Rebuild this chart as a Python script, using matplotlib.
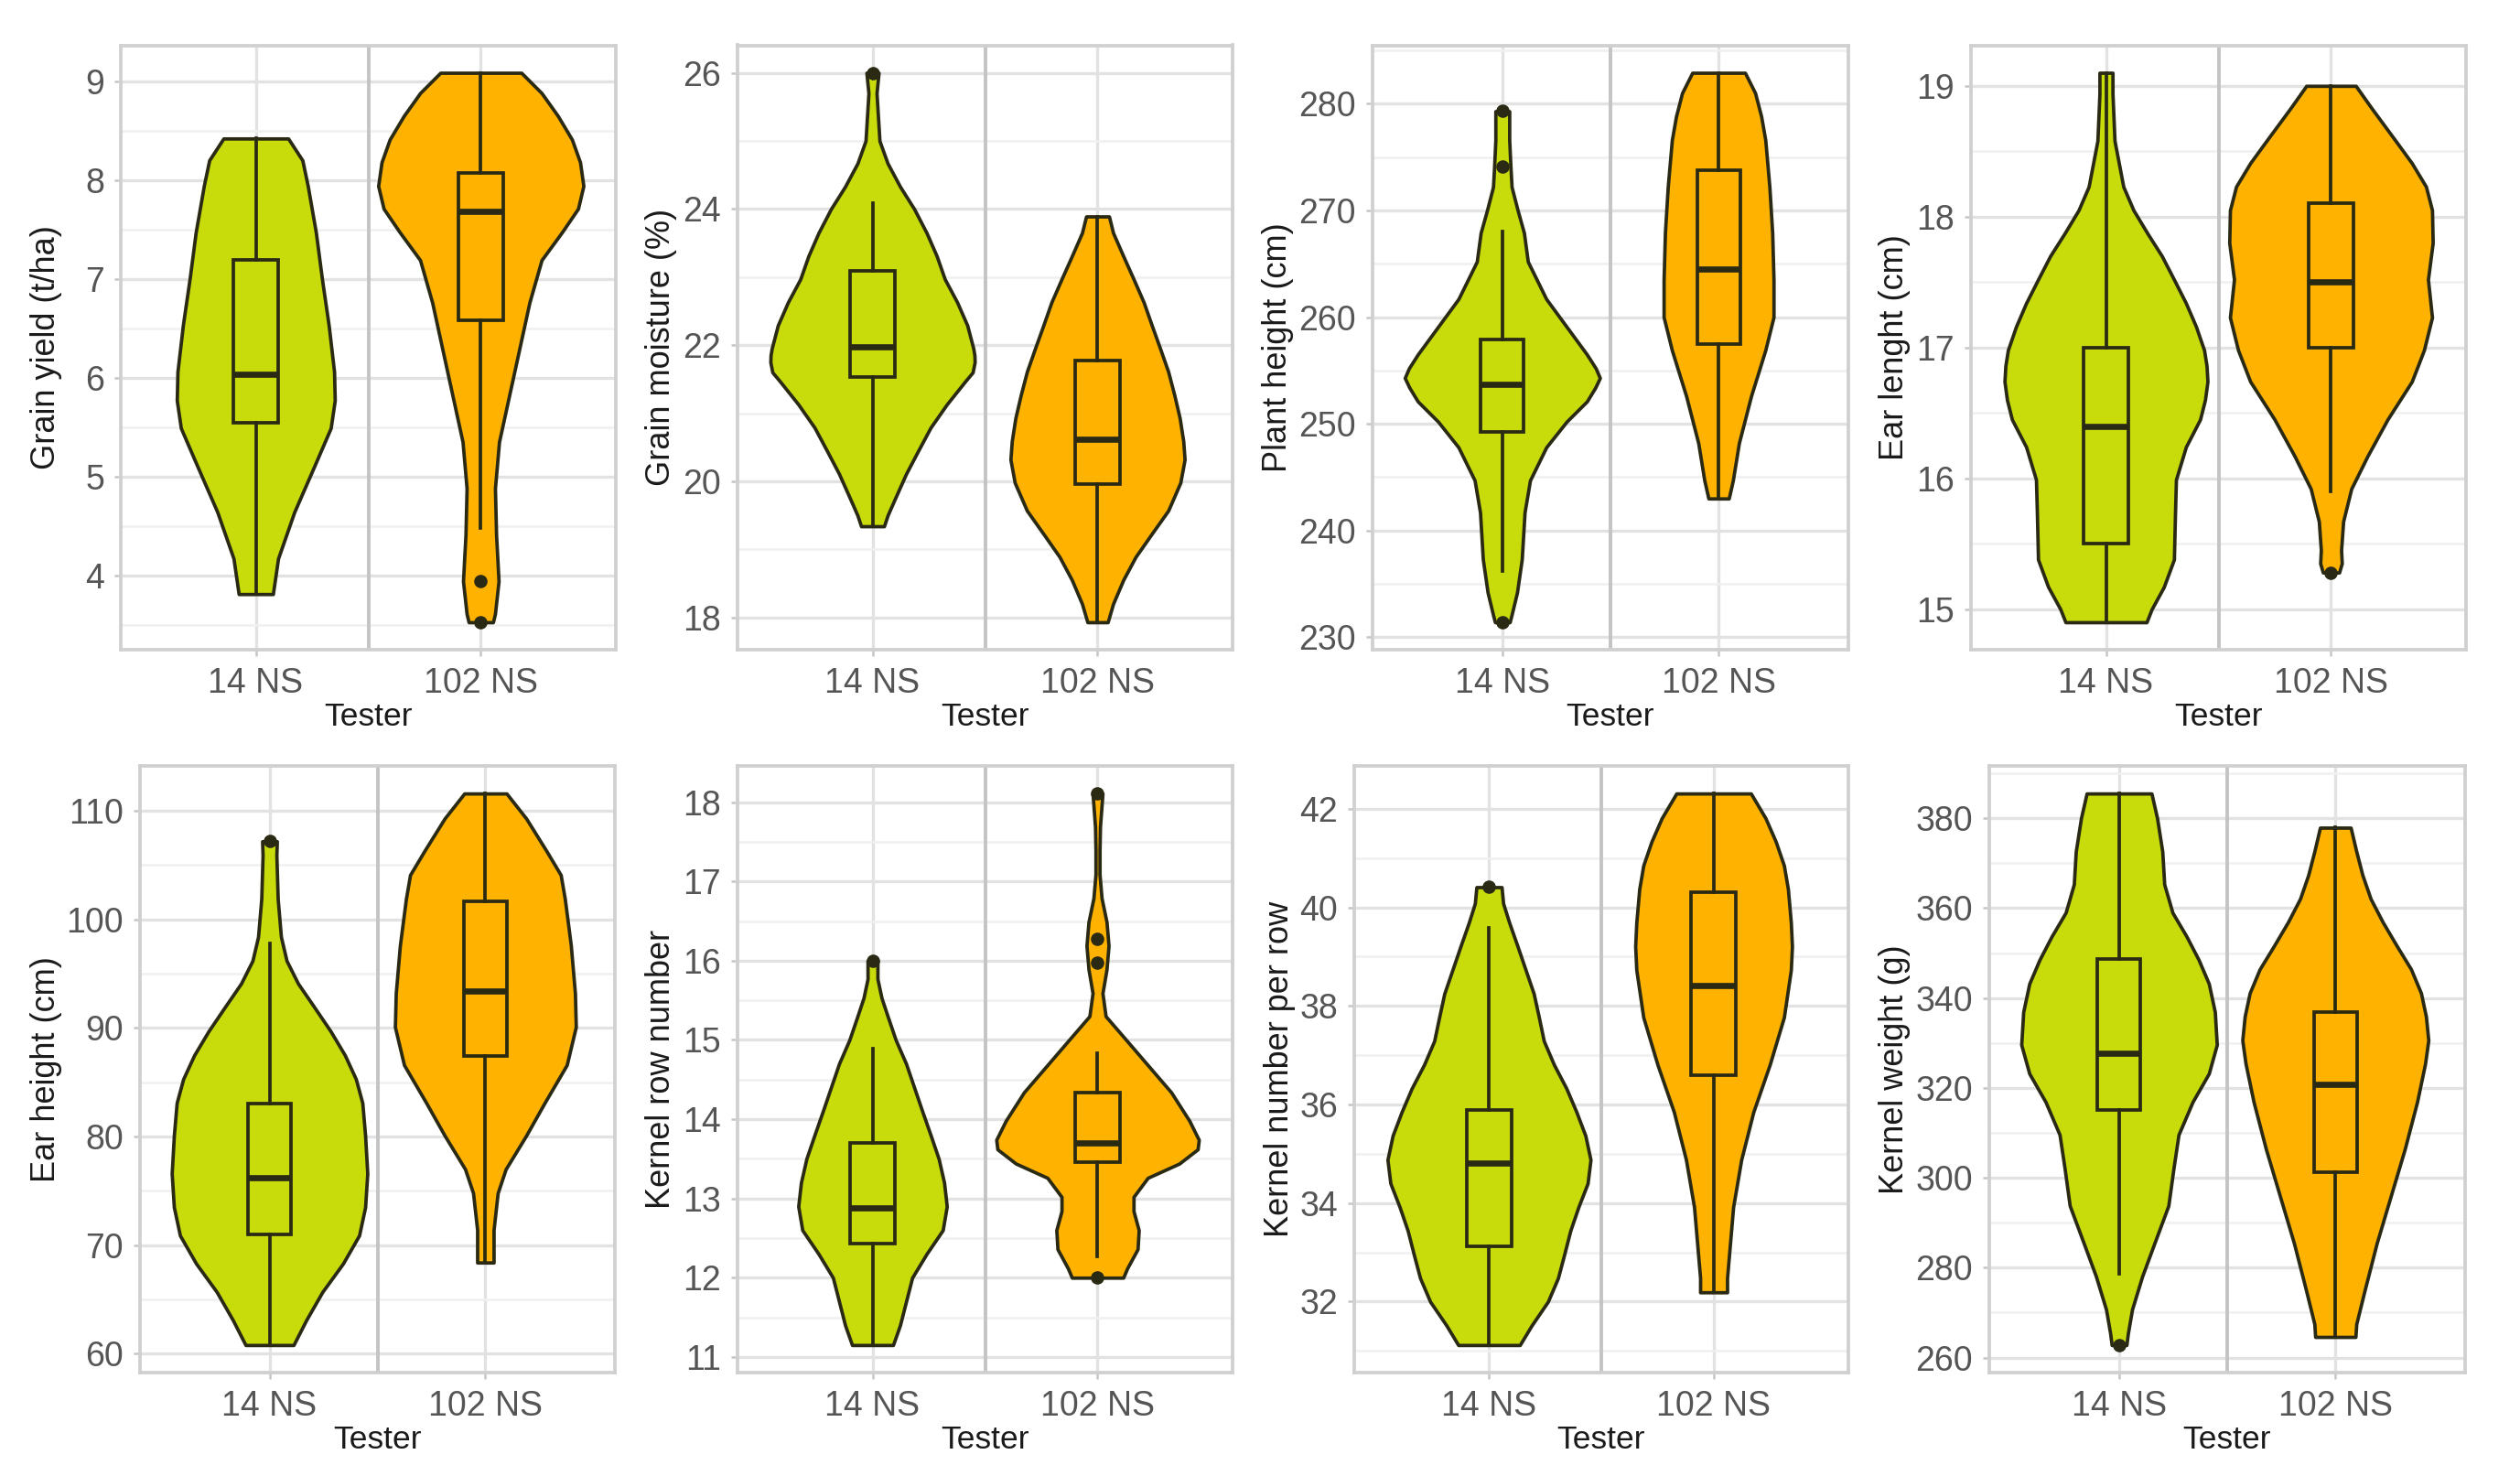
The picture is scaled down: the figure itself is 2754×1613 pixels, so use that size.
import numpy as np
import matplotlib
matplotlib.use("Agg")
import matplotlib.pyplot as plt
from matplotlib.ticker import MultipleLocator, NullLocator
from matplotlib.transforms import blended_transform_factory

plt.rcParams['font.family'] = ['Liberation Sans', 'DejaVu Sans']

testers = ['14 NS', '102 NS']
fills = ['#c8dc0c', '#ffb300']
edge = '#2a2a14'

# violin outlines: y values and half widths (x units)
# box stats are [whisker low, q1, median, q3, whisker high]

# Grain yield
gy_14_y = [8.42, 8.2, 7.94, 7.47, 7.00, 6.53, 6.06, 5.77, 5.49, 5.11, 4.64, 4.17, 3.81]
gy_14_w = [0.144, 0.207, 0.231, 0.267, 0.294, 0.324, 0.348, 0.351, 0.333, 0.261, 0.171, 0.099, 0.076]
gy_102_y = [9.085, 8.88, 8.65, 8.41, 8.18, 7.94, 7.71, 7.47, 7.19, 6.76, 6.29, 5.82, 5.35, 4.88, 4.41, 3.94, 3.61, 3.525]
gy_102_w = [0.18, 0.27, 0.342, 0.405, 0.441, 0.456, 0.432, 0.36, 0.27, 0.216, 0.171, 0.126, 0.081, 0.063, 0.068, 0.079, 0.063, 0.054]
gy_box = [[3.81, 5.54, 6.03, 7.19, 8.42], [4.48, 6.58, 7.68, 8.07, 9.085]]
gy_out = [[], [3.94, 3.525]]

# Grain moisture
gm_14_y = [26.0, 25.7, 25.0, 24.67, 24.33, 24.0, 23.65, 23.31, 22.97, 22.63, 22.29, 21.95, 21.85, 21.75, 21.6, 21.47, 21.13, 20.79, 20.45, 20.11, 19.77, 19.5, 19.34]
gm_14_w = [0.027, 0.018, 0.031, 0.067, 0.122, 0.185, 0.240, 0.285, 0.321, 0.376, 0.421, 0.448, 0.453, 0.454, 0.445, 0.412, 0.330, 0.258, 0.203, 0.149, 0.103, 0.067, 0.051]
gm_102_y = [23.89, 23.65, 23.31, 22.97, 22.63, 22.29, 21.95, 21.61, 21.27, 20.93, 20.59, 20.32, 19.98, 19.57, 19.23, 18.89, 18.55, 18.2, 17.93]
gm_102_w = [0.051, 0.069, 0.114, 0.160, 0.205, 0.241, 0.278, 0.314, 0.341, 0.365, 0.381, 0.387, 0.368, 0.314, 0.241, 0.169, 0.114, 0.069, 0.045]
gm_box = [[19.34, 21.53, 21.98, 23.09, 24.09], [17.93, 19.96, 20.62, 21.78, 23.89]]
gm_out = [[26.0], []]

# Plant height
ph_14_y = [279.3, 276.6, 274.0, 272.2, 270.0, 267.9, 265.2, 261.7, 259.1, 256.5, 255.2, 254.3, 253.4, 252.1, 250.2, 247.8, 244.7, 241.7, 237.3, 234.2, 232.1, 231.4]
ph_14_w = [0.032, 0.032, 0.038, 0.043, 0.071, 0.100, 0.118, 0.203, 0.297, 0.391, 0.432, 0.451, 0.430, 0.391, 0.297, 0.203, 0.128, 0.103, 0.090, 0.068, 0.043, 0.034]
ph_102_y = [282.9, 281.0, 278.8, 276.6, 272.2, 267.9, 263.5, 260.0, 256.9, 252.6, 248.2, 244.7, 243.0]
ph_102_w = [0.122, 0.169, 0.197, 0.216, 0.235, 0.248, 0.254, 0.254, 0.216, 0.150, 0.094, 0.066, 0.047]
ph_box = [[236.2, 249.2, 253.7, 257.9, 268.0], [243.0, 257.5, 264.5, 273.8, 282.9]]
ph_out = [[279.3, 274.1, 231.4], []]

# Ear length
el_14_y = [19.1, 18.94, 18.58, 18.23, 18.05, 17.87, 17.70, 17.52, 17.34, 17.16, 16.98, 16.86, 16.74, 16.6, 16.45, 16.24, 15.99, 15.74, 15.38, 15.17, 15.0, 14.9]
el_14_w = [0.029, 0.029, 0.038, 0.077, 0.122, 0.185, 0.248, 0.302, 0.355, 0.400, 0.436, 0.447, 0.451, 0.440, 0.418, 0.355, 0.311, 0.307, 0.302, 0.257, 0.203, 0.180]
el_102_y = [19.0, 18.83, 18.58, 18.41, 18.23, 18.05, 17.80, 17.52, 17.23, 16.98, 16.74, 16.45, 16.17, 15.92, 15.67, 15.45, 15.35, 15.28]
el_102_w = [0.110, 0.180, 0.287, 0.359, 0.422, 0.449, 0.452, 0.431, 0.449, 0.413, 0.359, 0.251, 0.162, 0.090, 0.054, 0.045, 0.048, 0.036]
el_box = [[14.9, 15.5, 16.4, 17.0, 19.1], [15.9, 17.0, 17.5, 18.1, 19.0]]
el_out = [[], [15.28]]

# Ear height
eh_14_y = [107.2, 105.9, 101.9, 98.4, 96.2, 94.1, 91.9, 89.7, 87.5, 85.3, 83.1, 80.1, 76.6, 73.5, 70.9, 68.3, 65.7, 63.1, 60.8]
eh_14_w = [0.034, 0.032, 0.038, 0.053, 0.079, 0.132, 0.208, 0.283, 0.349, 0.400, 0.430, 0.443, 0.453, 0.443, 0.415, 0.340, 0.245, 0.170, 0.111]
eh_102_y = [111.6, 109.3, 106.3, 104.1, 101.9, 97.6, 93.2, 90.1, 86.6, 83.1, 80.1, 77.0, 74.8, 71.4, 68.4]
eh_102_w = [0.098, 0.189, 0.283, 0.349, 0.368, 0.396, 0.415, 0.419, 0.377, 0.274, 0.189, 0.094, 0.057, 0.038, 0.038]
eh_box = [[60.8, 71.0, 76.2, 83.0, 97.8], [68.4, 87.4, 93.4, 101.7, 111.6]]
eh_out = [[107.2], []]

# Kernel row number
krn_14_y = [16.0, 15.77, 15.53, 15.30, 15.0, 14.70, 14.40, 14.10, 13.80, 13.50, 13.20, 12.90, 12.60, 12.30, 12.0, 11.70, 11.40, 11.15]
krn_14_w = [0.022, 0.022, 0.040, 0.067, 0.103, 0.149, 0.185, 0.221, 0.258, 0.294, 0.318, 0.330, 0.312, 0.240, 0.176, 0.149, 0.122, 0.091]
krn_102_y = [18.11, 17.69, 17.39, 17.09, 16.79, 16.49, 16.19, 15.89, 15.59, 15.30, 15.06, 14.70, 14.34, 13.98, 13.74, 13.62, 13.44, 13.26, 13.02, 12.84, 12.60, 12.36, 12.12, 12.0]
krn_102_w = [0.022, 0.011, 0.009, 0.009, 0.018, 0.040, 0.049, 0.040, 0.022, 0.036, 0.109, 0.218, 0.327, 0.408, 0.450, 0.445, 0.363, 0.223, 0.160, 0.160, 0.183, 0.178, 0.132, 0.114]
krn_box = [[11.15, 12.43, 12.88, 13.70, 14.89], [12.27, 13.46, 13.70, 14.34, 14.83]]
krn_out = [[16.0], [18.11, 16.28, 15.98, 12.0]]

# Kernel number per row
knr_14_y = [40.41, 40.08, 39.69, 39.21, 38.73, 38.25, 37.77, 37.29, 36.81, 36.33, 35.85, 35.37, 34.88, 34.40, 33.92, 33.44, 32.96, 32.48, 32.0, 31.52, 31.12]
knr_14_w = [0.056, 0.063, 0.090, 0.127, 0.163, 0.199, 0.222, 0.244, 0.289, 0.344, 0.389, 0.429, 0.452, 0.439, 0.398, 0.362, 0.335, 0.307, 0.262, 0.190, 0.137]
knr_102_y = [42.31, 41.81, 41.33, 40.85, 40.37, 39.69, 39.21, 38.73, 37.77, 36.81, 35.85, 34.88, 33.92, 32.96, 32.48, 32.19]
knr_102_w = [0.166, 0.231, 0.277, 0.313, 0.331, 0.344, 0.349, 0.344, 0.313, 0.250, 0.177, 0.123, 0.087, 0.069, 0.060, 0.060]
knr_box = [[31.12, 33.13, 34.81, 35.89, 39.58], [32.19, 36.59, 38.41, 40.30, 42.31]]
knr_out = [[40.41], []]

# Kernel weight
kw_14_y = [385.5, 380.0, 372.6, 365.3, 359.0, 353.7, 348.5, 343.2, 336.9, 329.6, 323.2, 316.9, 309.6, 302.2, 293.8, 285.4, 278.1, 270.7, 265.4, 262.8]
kw_14_w = [0.150, 0.176, 0.200, 0.209, 0.247, 0.312, 0.368, 0.415, 0.443, 0.452, 0.415, 0.340, 0.275, 0.252, 0.228, 0.163, 0.107, 0.060, 0.041, 0.034]
kw_102_y = [377.9, 372.6, 367.4, 362.1, 356.9, 351.6, 346.4, 341.1, 335.9, 330.6, 325.4, 316.9, 306.4, 295.9, 285.4, 274.9, 267.5, 264.6]
kw_102_w = [0.071, 0.097, 0.125, 0.163, 0.219, 0.284, 0.350, 0.396, 0.419, 0.430, 0.415, 0.378, 0.321, 0.256, 0.191, 0.135, 0.097, 0.093]
kw_box = [[278.6, 315.0, 327.7, 348.7, 385.5], [264.6, 301.2, 320.8, 336.9, 377.9]]
kw_out = [[262.8], []]

ylabels = ['Grain yield (t/ha)', 'Grain moisture (%)', 'Plant height (cm)', 'Ear lenght (cm)',
           'Ear height (cm)', 'Kernel row number', 'Kernel number per row', 'Kernel weight (g)']
tick_steps = [1, 2, 10, 1, 10, 1, 2, 20]

panels = [
    ([(gy_14_y, gy_14_w), (gy_102_y, gy_102_w)], gy_box, gy_out),
    ([(gm_14_y, gm_14_w), (gm_102_y, gm_102_w)], gm_box, gm_out),
    ([(ph_14_y, ph_14_w), (ph_102_y, ph_102_w)], ph_box, ph_out),
    ([(el_14_y, el_14_w), (el_102_y, el_102_w)], el_box, el_out),
    ([(eh_14_y, eh_14_w), (eh_102_y, eh_102_w)], eh_box, eh_out),
    ([(krn_14_y, krn_14_w), (krn_102_y, krn_102_w)], krn_box, krn_out),
    ([(knr_14_y, knr_14_w), (knr_102_y, knr_102_w)], knr_box, knr_out),
    ([(kw_14_y, kw_14_w), (kw_102_y, kw_102_w)], kw_box, kw_out),
]

# layout in pixels
W, H = 2754, 1613
rows = [(49.5, 710), (837, 1500)]
cols = [[(132, 673), (806, 1347), (1500, 2020), (2154, 2695)],
        [(153, 672), (806, 1347), (1480, 2020), (2174, 2694)]]
ylab_x = [[50, 723, 1397, 2071], [50, 722, 1398, 2071]]
tester_base = [793, 1583]

fig = plt.figure(figsize=(W / 100, H / 100), dpi=100)

for i, (violins, boxes, fliers) in enumerate(panels):
    r, c = divmod(i, 4)
    top, bot = rows[r]
    left, right = cols[r][c]
    ax = fig.add_axes([left / W, 1 - bot / H, (right - left) / W, (bot - top) / H])

    ax.axvline(1.5, color='#c4c4c4', lw=2.8, zorder=1)

    stats = []
    for (yy, ww), b in zip(violins, boxes):
        stats.append(dict(coords=np.array(yy), vals=np.array(ww), mean=b[2],
                          median=b[2], min=min(yy), max=max(yy)))
    parts = ax.violin(stats, positions=[1, 2], widths=[2 * max(w) for _, w in violins],
                      showextrema=False)
    for body, col in zip(parts['bodies'], fills):
        body.set_facecolor(col)
        body.set_edgecolor(edge)
        body.set_linewidth(2.7)
        body.set_joinstyle('round')
        body.set_alpha(1)
        body.set_zorder(2)

    bstats = [dict(whislo=b[0], q1=b[1], med=b[2], q3=b[3], whishi=b[4], fliers=f)
              for b, f in zip(boxes, fliers)]
    bp = ax.bxp(bstats, positions=[1, 2], widths=0.2, patch_artist=True, showcaps=False,
                manage_ticks=False, zorder=3,
                boxprops=dict(edgecolor=edge, linewidth=2.7),
                whiskerprops=dict(color=edge, linewidth=2.7),
                medianprops=dict(color=edge, linewidth=4.8, solid_capstyle='butt'),
                flierprops=dict(marker='o', markerfacecolor=edge, markeredgecolor=edge,
                                markersize=9.5, linestyle='none'))
    for patch, col in zip(bp['boxes'], fills):
        patch.set_facecolor(col)

    allv = [v for yy, _ in violins for v in yy] + [v for f in fliers for v in f]
    lo, hi = min(allv), max(allv)
    pad = 0.05 * (hi - lo)
    ax.set_ylim(lo - pad, hi + pad)
    ax.set_xlim(0.4, 2.6)

    ax.set_xticks([1, 2])
    ax.set_xticklabels(testers)
    ax.yaxis.set_major_locator(MultipleLocator(tick_steps[i]))
    ax.yaxis.set_minor_locator(MultipleLocator(tick_steps[i] / 2))
    ax.xaxis.set_minor_locator(NullLocator())
    ax.set_axisbelow(True)
    ax.grid(True, which='major', color='#e2e2e2', lw=2.4)
    ax.grid(True, which='minor', axis='y', color='#f0f0f0', lw=1.8)

    for s in ax.spines.values():
        s.set_color('#d0d0d0')
        s.set_linewidth(2.7)
    ax.tick_params(which='major', length=5, width=1.8, color='#c6c6c6',
                   labelsize=27, labelcolor='#555555')
    ax.tick_params(axis='y', pad=8)
    ax.tick_params(axis='x', pad=9)
    ax.tick_params(which='minor', length=0)

    ax.set_ylabel(ylabels[i], fontsize=26, color='#1a1a1a', va='center')
    ax.yaxis.set_label_coords(ylab_x[r][c] / W, 0.5,
                              transform=blended_transform_factory(fig.transFigure, ax.transAxes))
    ax.set_xlabel('Tester', fontsize=25.5, color='#1a1a1a', va='baseline')
    ax.xaxis.set_label_coords(0.5, 1 - tester_base[r] / H,
                              transform=blended_transform_factory(ax.transAxes, fig.transFigure))

fig.savefig('out.png', dpi=100)
